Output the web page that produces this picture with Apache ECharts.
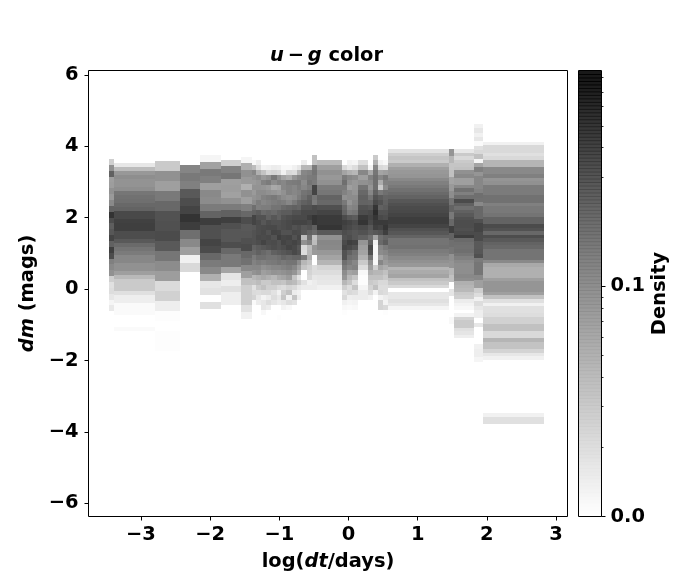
<!DOCTYPE html>
<html>
<head>
<meta charset="utf-8">
<style>html,body{margin:0;padding:0;background:#fff}#main{width:700px;height:580px}</style>
<script src="https://cdn.jsdelivr.net/npm/echarts@6/dist/echarts.min.js"></script>
</head>
<body>
<div id="main"></div>
<script>
// log(dt) edges of the time bins, left to right
var columnEdges = [-3.46,-3.39,-2.79,-2.43,-2.14,-1.84,-1.55,-1.40,-1.33,-1.26,-1.19,-1.12,-1.04,-0.97,-0.90,-0.82,-0.75,-0.68,-0.60,-0.53,-0.46,-0.10,-0.02,0.05,0.14,0.28,0.35,0.43,0.50,0.57,1.45,1.52,1.81,1.95,2.83];
// dm at the top of each column and the height of its bins
var columnTops = [3.64,3.54,3.58,3.48,3.75,3.61,3.71,3.75,3.75,3.75,3.75,3.75,3.75,3.75,3.75,3.75,3.75,3.75,3.75,3.75,3.60,3.75,3.75,3.75,3.75,3.75,3.75,3.75,3.75,3.92,3.92,3.92,4.62,4.12];
var columnBins = [0.164,0.112,0.28,0.23,0.196,0.176,0.189,0.14,0.14,0.14,0.14,0.14,0.14,0.14,0.14,0.14,0.14,0.14,0.14,0.14,0.14,0.14,0.14,0.14,0.14,0.14,0.14,0.14,0.14,0.1,0.196,0.1,0.121,0.1];
// position on the colour bar (0-100) of every bin, top to bottom
var columnLevels = [
[20,46,66,40,41,46,42,49,65,85,74,67,70,78,66,80,74,53,49,46,20,13,14,10,4,9],
[10,28,43,47,45,45,47,57,59,60,63,65,76,76,79,80,80,74,74,69,62,58,55,50,50,46,46,40,29,22,22,22,13,7,7,2,2,2,0,0,0,2],
[22,46,40,56,63,72,73,75,69,57,48,41,15,19,7,1,0,1,1],
[51,56,53,69,74,78,85,81,60,49,40,6,16],
[4,39,56,53,40,49,48,55,65,81,73,73,78,75,63,55,49,33,10,12,0,13],
[20,52,57,40,41,39,46,55,66,80,73,70,70,74,63,56,56,38,11,7,13,7,7],
[4,33,46,42,33,46,40,53,63,74,69,70,73,75,63,59,49,40,26,20,20,20,12,6],
[0,3,28,50,45,42,45,42,45,48,60,65,78,78,70,72,72,72,65,62,55,52,50,45,30,25,12,15,18,2],
[0,8,14,33,48,44,45,48,47,54,53,68,72,75,74,74,76,74,68,66,60,55,50,47,33,28,22,14,10,8],
[0,0,5,25,42,52,44,48,52,50,54,62,72,70,75,76,75,78,70,63,60,53,46,40,36,22,26,16,5,10,10,3],
[0,0,6,16,46,55,42,46,54,52,54,64,66,74,76,72,76,74,72,60,58,55,48,42,33,22,20,16,8,14,8],
[0,0,8,18,56,48,36,44,56,54,58,62,70,72,76,78,72,75,74,66,58,56,50,45,30,26,20,12,14,11],
[0,0,7,16,46,52,38,42,52,56,58,66,66,72,73,77,80,72,72,68,60,58,50,44,36,26,16,6,10,8,0,0,1],
[0,0,3,6,38,50,50,46,48,54,62,68,72,74,74,72,77,78,74,70,64,56,52,46,38,24,14,20,24,10,5],
[0,0,3,16,34,54,52,52,46,50,64,68,74,76,76,72,78,76,78,72,62,58,54,48,42,30,18,26,6,14,3],
[0,0,6,14,44,55,50,50,48,56,66,72,76,78,72,76,72,78,76,76,64,58,50,44,24,28,16,8,24,12],
[0,0,10,30,50,56,54,52,54,62,64,72,76,78,74,75,77,75,70,72,64,48,40,32,12,20,10,6,8],
[0,8,30,50,52,48,50,58,60,66,72,76,76,78,70,70,28,46,16,14,55,30,24,0,0,12,8],
[0,0,30,52,55,58,54,60,66,68,72,76,80,76,72,66,60,52,28,30,33,25,20,18,16,6,8],
[26,26,55,58,56,55,78,78,57,55,75,76,84,84,66,62,25,28,44,42,0,0,14,14,10,8,8],
[29,40,46,43,46,55,57,65,63,73,78,82,82,84,69,46,50,49,43,38,31,18,14,11,10,6],
[0,0,16,38,55,60,55,52,46,56,62,65,75,80,78,74,72,75,78,72,72,60,55,48,44,30,20,12,16,6,3,1],
[0,6,10,33,50,46,40,48,48,44,50,55,70,78,76,72,74,80,76,66,60,55,50,38,30,24,14,16,7,4,2],
[0,4,14,30,48,43,43,44,48,50,52,57,68,75,73,70,70,78,72,60,58,50,52,40,24,14,24,14,8,5,3],
[0,14,26,50,40,46,58,63,66,65,72,74,82,84,75,72,66,44,40,38,32,22,14,3,1,1,4,8,8],
[0,0,5,36,52,48,44,50,58,64,70,76,78,76,70,68,60,66,76,72,58,46,40,33,26,22,18,14,6],
[22,33,50,57,60,60,60,66,72,76,84,88,84,82,80,70,38,6,3,3,3,3,20,30,26,20,26,5],
[0,6,16,38,50,34,22,56,68,72,66,72,76,82,78,72,60,62,50,48,38,50,38,30,26,16,14,16,5,18,18],
[0,3,14,40,56,52,48,60,64,66,68,72,74,82,84,80,64,68,55,50,45,42,34,26,22,16,14,14,8,5,16,1],
[12,20,24,22,33,40,43,44,49,53,56,59,62,65,70,73,75,76,78,81,81,78,73,70,65,58,58,59,55,53,49,46,43,31,35,38,26,22,16,0,10,10,13,10,4],
[44,30,24,26,38,42,47,58,65,56,63,80,65,60,57,46,44,30,26,0,11,0,0,0,3],
[10,22,16,22,24,26,46,49,40,40,49,59,53,60,75,66,60,66,69,73,74,74,73,75,81,62,60,59,60,57,53,49,47,47,47,49,47,33,31,29,22,20,8,5,3,0,5,18,22,22,13,11,7],
[6,10,6,10,2,13,16,26,4,38,53,44,50,50,50,52,60,59,49,63,63,63,73,78,78,75,75,69,69,70,73,55,57,57,57,49,40,40,20,14,6,14,10,7,7,0,10,0,0,0,0,6,7,7,4],
[6,16,16,13,16,31,31,49,49,53,44,46,55,55,55,59,59,53,56,56,58,65,65,75,72,63,74,69,65,63,58,58,58,49,36,33,33,33,40,44,44,44,40,26,13,6,13,13,14,19,19,26,26,16,16,31,25,25,18,10,6,0,0,0,0,0,0,0,0,0,0,0,0,0,0,0,6,13,13]
];
// colour bar positions of the ticks
var colorbarMajor = [0,51.6];
var colorbarMajorLabels = ['0.0','0.1'];
var colorbarMinor = [15.5,24.7,31.2,36.1,40.1,43.7,46.6,49.1,76.1,82.7,87.5,91.9,95.2,98.4];
var xTicks = [-3,-2,-1,0,1,2,3];
var yTicks = [-6,-4,-2,0,2,4,6];

function grey(level){
	var g = Math.max(0, Math.round(255 - 2.4 * level));
	return 'rgb(' + g + ',' + g + ',' + g + ')';
}
function minus(v){
	return String(v).replace('-', '\u2212');
}

var cells = [];
columnLevels.forEach(function(levels, c){
	levels.forEach(function(level, r){
		if(level > 0){
			cells.push([columnEdges[c], columnEdges[c+1], columnTops[c] - r * columnBins[c], columnTops[c] - (r+1) * columnBins[c], level]);
		}
	});
});

// the colour bar strip, one cell per step of the scale
var colorbarCells = [];
for(var i = 0; i < 128; i++){
	colorbarCells.push([0, 1, i * 100 / 128, (i + 1) * 100 / 128]);
}

function renderCell(params, api){
	var a = api.coord([api.value(0), api.value(2)]);
	var b = api.coord([api.value(1), api.value(3)]);
	var x = Math.round(a[0]), y = Math.round(a[1]);
	return {
		type: 'rect',
		shape: {x: x, y: y, width: Math.round(b[0]) - x, height: Math.round(b[1]) - y},
		style: {fill: grey(api.value(4))}
	};
}
function renderBar(params, api){
	var a = api.coord([0, api.value(3)]);
	var b = api.coord([1, api.value(2)]);
	var level = api.value(2);
	return {
		type: 'rect',
		// keep inside the frame so its black lines stay visible
		shape: {x: a[0] + 0.5, y: a[1], width: b[0] - a[0] - 1, height: b[1] - a[1] + (level > 0 ? 1 : -0.5)},
		style: {fill: grey(level + 10 * Math.pow(level / 100, 4)), opacity: 0.9}
	};
}

var size = 19.44;
var font = {fontFamily: 'DejaVu Sans', fontWeight: 'bold', fontSize: size, color: '#000'};
var italic = {fontFamily: 'DejaVu Sans', fontWeight: 'bold', fontStyle: 'italic', fontSize: size, color: '#000'};
var tickLine = {color: '#000', width: 1};

var myChart = echarts.init(document.getElementById('main'), null, {renderer: 'canvas'});
var option = {
	animation: false,
	backgroundColor: '#fff',
	title: {
		text: '{i|u\u2009\u2212\u2009g}{b| color}',
		left: 321.5,
		top: 41,
		textAlign: 'center',
		textStyle: {rich: {i: italic, b: font}}
	},
	grid: [
		{left: 88.5, top: 70.5, width: 479, height: 446, show: true, borderColor: '#000', borderWidth: 1, backgroundColor: '#fff'},
		{left: 578.5, top: 70.5, width: 23, height: 446, show: true, borderColor: '#000', borderWidth: 1, backgroundColor: '#fff'}
	],
	xAxis: [
		{
			type: 'value', gridIndex: 0, min: -3.757, max: 3.165,
			splitLine: {show: false}, axisLine: {show: false, onZero: false},
			axisTick: {show: true, length: 4, customValues: xTicks, lineStyle: tickLine},
			axisLabel: {customValues: xTicks, margin: 8.5, fontFamily: font.fontFamily, fontWeight: 'bold', fontSize: size, color: '#000', formatter: minus},
			name: 'log({i|dt}/days)', nameLocation: 'middle', nameGap: 36,
			nameTextStyle: Object.assign({}, font, {rich: {i: italic}})
		},
		{type: 'value', gridIndex: 1, min: 0, max: 1, show: false}
	],
	yAxis: [
		{
			type: 'value', gridIndex: 0, min: -6.37, max: 6.12,
			splitLine: {show: false}, axisLine: {show: false, onZero: false},
			axisTick: {show: true, length: 4, customValues: yTicks, lineStyle: tickLine},
			axisLabel: {customValues: yTicks, margin: 10, padding: [9, 0, 0, 0], fontFamily: font.fontFamily, fontWeight: 'bold', fontSize: size, color: '#000', formatter: minus},
			name: '{i|dm} (mags)', nameLocation: 'middle', nameGap: 48,
			nameTextStyle: Object.assign({}, font, {rich: {i: italic}})
		},
		{
			type: 'value', gridIndex: 1, min: 0, max: 100, position: 'right',
			splitLine: {show: false}, axisLine: {show: false, onZero: false},
			axisTick: {show: true, length: 4, customValues: colorbarMajor, lineStyle: tickLine},
			axisLabel: {
				customValues: colorbarMajor, margin: 9, padding: [9, 0, 0, 0], fontFamily: font.fontFamily, fontWeight: 'bold', fontSize: size, color: '#000',
				formatter: function(v){ return colorbarMajorLabels[colorbarMajor.indexOf(v)]; }
			},
			name: 'Density', nameLocation: 'middle', nameGap: 49, nameRotate: 90,
			nameTextStyle: font
		},
		{
			type: 'value', gridIndex: 1, min: 0, max: 100, position: 'right',
			splitLine: {show: false}, axisLine: {show: false, onZero: false}, axisLabel: {show: false},
			axisTick: {show: true, length: 2, customValues: colorbarMinor, lineStyle: {color: '#000', width: 0.8}}
		}
	],
	series: [
		{
			type: 'custom', xAxisIndex: 0, yAxisIndex: 0, silent: true, clip: true,
			renderItem: renderCell, data: cells,
			encode: {x: [0, 1], y: [2, 3]}
		},
		{
			type: 'custom', xAxisIndex: 1, yAxisIndex: 1, silent: true,
			renderItem: renderBar, data: colorbarCells,
			encode: {x: [0, 1], y: [2, 3]}
		}
	]
};
myChart.setOption(option);
</script>
</body>
</html>
